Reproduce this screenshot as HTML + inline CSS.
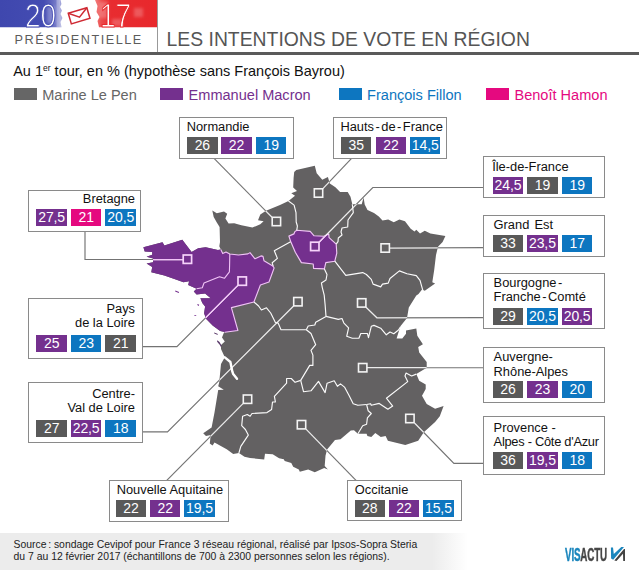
<!DOCTYPE html>
<html lang="fr"><head><meta charset="utf-8"><title>Les intentions de vote en région</title>
<style>
html,body{margin:0;padding:0;background:#fff}
body{width:639px;height:570px;position:relative;overflow:hidden;font-family:"Liberation Sans",Arial,sans-serif}
#map{position:absolute;left:0;top:0}
.hb{position:absolute;top:0;height:27.3px}
#blue{left:0;width:66px;background:linear-gradient(90deg,#3f47ae 0,#424ab0 38px,#5d63bb 46px,#9a9dd6 53px,#dcdcf0 59px,#fff 64px)}
#red{left:93px;width:64px;background:linear-gradient(90deg,#fff 0,#f08a88 3px,#e8353a 8px,#e8252b 40px,#ea3035 100%)}
.yr{position:absolute;top:-1.8px;color:#fff;font-size:32.6px;line-height:36px;transform-origin:0 0;transform:scaleX(.86);letter-spacing:0}
#pres{position:absolute;left:14.6px;top:32.1px;font-size:12.7px;line-height:16px;letter-spacing:1.5px;color:#5c5c5c}
#vsep{position:absolute;left:156.7px;top:0;width:1.2px;height:52px;background:#999}
#rule{position:absolute;left:0;top:52px;width:639px;height:2.6px;background:#5a5a5a}
#title{position:absolute;left:166.6px;top:26.9px;font-size:19.35px;line-height:24px;color:#555;white-space:nowrap}
#sub{position:absolute;left:13.2px;top:61.5px;font-size:14.5px;line-height:18px;color:#111;white-space:nowrap}
#sub sup{font-size:8.5px;vertical-align:baseline;position:relative;top:-4.6px}
.lg{position:absolute;top:85.6px;font-size:14.55px;line-height:18px;white-space:nowrap}
.lg i{position:absolute;top:2.6px;height:12.1px;width:23.4px;display:block}
.box{position:absolute;box-sizing:border-box;border:1px solid #8a8a8a;background:#fff}
.box .t{position:absolute;font-size:12.85px;line-height:14.2px;color:#111;white-space:nowrap}
.box .t i{font-style:normal;margin:0 1.5px}
.box .t b{margin-left:1.6px}
.box .t u{text-decoration:none;letter-spacing:-0.27px}
.box .c{position:absolute;display:block;width:30.5px;height:17px;color:#fff;font-size:14px;line-height:17px;text-align:center;letter-spacing:-0.1px;white-space:nowrap}
#foot{position:absolute;left:0;top:532.5px;width:639px;height:37.5px;background:linear-gradient(90deg,#ececec 0,#ececec 432px,#fff 468px)}
#src{position:absolute;left:13.6px;top:538.5px;font-size:10.4px;line-height:12.5px;color:#222;white-space:nowrap}
#logo{position:absolute;left:564.8px;top:544.4px;font-size:18.7px;line-height:22px;font-weight:bold;color:#474747;transform-origin:0 0;transform:scaleX(.525);white-space:nowrap;letter-spacing:-0.3px;-webkit-text-stroke:0.5px currentColor}
#logo span{color:#1b86bd}
</style></head><body>
<svg style="position:absolute;left:0;top:0" width="160" height="28" viewBox="0 0 160 28">
<defs><linearGradient id="gb" x1="0" x2="1"><stop offset="0" stop-color="#3f47ae"/><stop offset=".7" stop-color="#444cb2"/><stop offset=".8" stop-color="#5a60bb"/><stop offset=".93" stop-color="#7f84cc"/><stop offset="1" stop-color="#b9bbe3"/></linearGradient>
<linearGradient id="gr" x1="0" x2="1"><stop offset="0" stop-color="#f3807f"/><stop offset=".1" stop-color="#ec4b4c"/><stop offset=".25" stop-color="#e82c30"/><stop offset="1" stop-color="#e8282c"/></linearGradient><filter id="bl" x="-20%" y="-20%" width="140%" height="140%"><feGaussianBlur stdDeviation="1.6"/></filter></defs>
<path d="M0 0H60.5L61.5 4L60 7L62 10.5L60.5 14L62.5 18L60.5 22L61.5 27.2H0Z" fill="url(#gb)"/>
<path d="M56.5 0l3.5 0l1 27.2h-4.5z" fill="#fff" opacity=".3"/>
<path d="M95 0H157V27.2H99L97.5 21L99.5 17L96.5 12L97.5 6Z" fill="url(#gr)"/>
<g filter="url(#bl)"><path d="M47 6h9v17h-9z" fill="#9a9ed8" opacity=".55"/><path d="M99 2h9v16h-9z M134 8h9v9h-9z M112 19h10v7h-10z" fill="#fff" opacity=".22"/></g>
</svg>
<div class="yr" style="left:25.4px;-webkit-text-stroke:1px #444cb2">20</div><div class="yr" style="left:99.6px;-webkit-text-stroke:1px #e8292d">17</div>
<svg style="position:absolute;left:62px;top:2px" width="34" height="26" viewBox="0 0 34 26"><g transform="rotate(-16.5 17.1 13.8)" fill="#fff" stroke="#cf2a33" stroke-width="1.5" stroke-linejoin="miter"><rect x="7.4" y="8.3" width="19.4" height="11"/><path d="M7.4 8.3 L17.1 15.2 L26.8 8.3" fill="none"/></g></svg>
<div id="pres">PRÉSIDENTIELLE</div>
<div id="vsep"></div><div id="rule"></div>
<div id="title">LES INTENTIONS DE VOTE EN RÉGION</div>
<div id="sub">Au 1<sup>er</sup> tour, en % (hypothèse sans François Bayrou)</div>
<div class="lg" style="left:14px;color:#666"><i style="left:0;background:#666"></i><span style="margin-left:28.2px">Marine Le Pen</span></div>
<div class="lg" style="left:160px;color:#74308e"><i style="left:0;background:#74308e"></i><span style="margin-left:28.6px">Emmanuel Macron</span></div>
<div class="lg" style="left:338.9px;color:#0d76c0"><i style="left:0;background:#0d76c0"></i><span style="margin-left:28.2px">François Fillon</span></div>
<div class="lg" style="left:485.7px;color:#e5097f"><i style="left:0;background:#e5097f"></i><span style="margin-left:28.8px">Benoît Hamon</span></div>
<svg id="map" width="639" height="570" viewBox="0 0 639 570">
<defs><clipPath id="fr"><path d="M143.4 247.3 L162.5 242.2 L164.4 245.4 L182.3 239.8 L191.6 252.0 L198.2 248.2 L205.7 247.3 L217.9 250.1 L220.8 249.6 L219.3 246.3 L220.0 242.0 L219.6 227.0 L216.8 222.6 L213.7 217.0 L212.3 210.5 L216.8 213.3 L224.0 211.6 L227.2 213.8 L225.4 218.5 L228.6 223.5 L234.2 223.2 L241.4 225.3 L252.4 227.6 L260.3 224.2 L263.6 221.3 L258.0 220.3 L260.3 214.5 L266.0 210.8 L280.0 205.1 L288.5 201.0 L295.0 195.7 L291.3 193.2 L297.0 191.0 L293.2 187.6 L293.6 178.0 L294.2 172.0 L296.3 170.0 L314.8 165.7 L316.7 173.2 L322.3 179.8 L327.9 176.9 L329.8 183.5 L335.4 187.3 L340.1 192.0 L347.7 192.0 L350.5 196.7 L352.3 204.2 L361.7 204.2 L363.6 197.6 L364.7 204.4 L367.5 210.0 L374.0 212.9 L378.8 216.6 L382.5 220.4 L388.2 219.4 L393.8 222.3 L399.4 219.4 L405.0 221.3 L410.7 228.8 L414.5 231.6 L416.3 229.8 L420.0 233.5 L424.8 230.7 L430.4 233.5 L445.4 236.0 L442.6 242.0 L438.0 246.7 L436.0 255.0 L434.2 270.0 L432.3 282.2 L435.1 283.5 L424.8 290.7 L422.0 289.5 L418.5 294.0 L416.3 295.4 L408.8 307.6 L407.0 317.9 L400.4 326.3 L396.6 338.5 L402.3 338.5 L406.0 333.8 L406.0 330.5 L416.3 328.6 L417.3 335.7 L422.9 344.2 L418.2 347.0 L419.2 352.6 L426.7 362.0 L426.7 367.7 L416.3 374.1 L419.2 380.7 L425.7 384.4 L425.7 389.1 L422.0 395.7 L426.7 404.1 L435.1 408.8 L443.6 406.0 L439.8 416.3 L435.1 422.0 L423.8 432.3 L418.2 440.8 L405.3 445.1 L387.9 440.8 L385.6 436.1 L380.8 436.9 L375.3 432.9 L371.3 436.9 L367.4 436.1 L366.6 433.7 L357.9 433.7 L354.0 430.2 L350.8 430.6 L340.5 439.2 L335.0 440.0 L327.1 449.5 L325.5 455.8 L324.7 466.1 L327.9 469.5 L324.2 468.0 L314.8 472.3 L308.2 469.5 L299.8 471.7 L298.8 469.5 L293.2 466.7 L291.3 462.9 L284.7 461.0 L283.8 459.2 L279.1 458.2 L272.7 454.2 L265.0 453.8 L264.2 459.4 L250.0 458.0 L244.5 456.7 L238.9 453.0 L233.2 453.9 L226.7 449.2 L214.5 442.6 L212.6 445.4 L209.8 443.6 L210.7 435.1 L206.0 436.1 L203.2 433.2 L211.6 427.6 L214.5 412.6 L218.2 390.0 L223.8 389.7 L218.2 386.3 L219.2 382.5 L221.0 363.9 L224.8 357.3 L221.0 348.9 L221.0 345.1 L224.8 341.4 L222.0 337.6 L223.8 332.9 L224.8 332.0 L220.1 331.0 L212.6 325.4 L206.0 318.8 L204.1 313.2 L205.1 306.6 L202.3 302.9 L200.4 298.2 L210.7 298.2 L205.1 293.5 L196.6 294.4 L193.8 291.6 L196.6 288.8 L188.2 285.0 L189.1 281.3 L183.5 282.2 L173.0 278.4 L164.4 275.4 L151.3 272.3 L152.2 267.0 L146.6 263.6 L153.1 262.3 L153.1 258.5 L146.6 256.7 L152.2 254.8 L152.2 252.0 L144.7 251.6Z"/></clipPath><clipPath id="pu"><path d="M196.6 288.8 L188.2 285.0 L189.1 281.3 L183.5 282.2 L173.0 278.4 L164.4 275.4 L151.3 272.3 L152.2 267.0 L146.6 263.6 L153.1 262.3 L153.1 258.5 L146.6 256.7 L152.2 254.8 L152.2 252.0 L144.7 251.6 L143.4 247.3 L162.5 242.2 L164.4 245.4 L182.3 239.8 L191.6 252.0 L198.2 248.2 L205.7 247.3 L217.9 250.1 L220.8 249.6 L222.7 253.6 L226.0 252.1 L229.8 254.0 L229.6 265.1 L229.4 271.8 L224.4 278.3 L219.5 276.7 L204.0 283.0 L202.3 287.8 L196.6 288.8ZM224.8 332.0 L220.1 331.0 L212.6 325.4 L206.0 318.8 L204.1 313.2 L205.1 306.6 L202.3 302.9 L200.4 298.2 L210.7 298.2 L205.1 293.5 L196.6 294.4 L193.8 291.6 L196.6 288.8 L202.3 287.8 L204.0 283.0 L219.5 276.7 L224.4 278.3 L229.4 271.8 L229.6 265.1 L229.8 254.0 L238.5 255.0 L247.9 253.9 L250.0 252.6 L255.0 258.8 L261.0 255.9 L263.0 256.4 L264.0 260.8 L273.2 266.3 L274.1 268.0 L269.0 282.0 L260.4 285.0 L253.9 302.0 L231.4 307.6 L237.9 330.5 L224.8 332.3ZM296.8 230.2 L310.2 231.4 L314.1 235.8 L324.0 236.3 L328.7 233.9 L329.1 237.7 L336.2 244.2 L336.8 253.2 L334.8 261.2 L325.8 262.6 L324.4 268.9 L313.6 268.4 L313.2 264.0 L301.4 262.6 L295.3 252.2 L290.6 241.3 L288.9 236.1 L293.9 233.9 L294.9 231.6Z"/></clipPath></defs>
<g fill="none" stroke="#737373" stroke-width="1.15"><path d="M213.8 158.2 L272.0 217.3"/><path d="M351.8 158.2 L322.9 188.6"/><path d="M319.1 242.2 L372.8 187.5 L483.5 187.5"/><path d="M389.7 248.0 L483.5 247.6"/><path d="M366.0 307.3 L376.9 317.8 L483.5 317.6"/><path d="M367.0 367.7 L483.5 367.7"/><path d="M414.5 423.0 L453.9 463.3 L483.5 463.3"/><path d="M306.0 429.1 L356.0 480.4"/><path d="M243.0 403.6 L166.8 480.4"/><path d="M293.6 306.0 L167.5 431.9 L142.3 431.9"/><path d="M237.9 285.4 L176.9 346.6 L142.3 346.6"/><path d="M183.2 259.5 L85.0 259.5 L85.0 231.5"/></g>
<path d="M143.4 247.3 L162.5 242.2 L164.4 245.4 L182.3 239.8 L191.6 252.0 L198.2 248.2 L205.7 247.3 L217.9 250.1 L220.8 249.6 L219.3 246.3 L220.0 242.0 L219.6 227.0 L216.8 222.6 L213.7 217.0 L212.3 210.5 L216.8 213.3 L224.0 211.6 L227.2 213.8 L225.4 218.5 L228.6 223.5 L234.2 223.2 L241.4 225.3 L252.4 227.6 L260.3 224.2 L263.6 221.3 L258.0 220.3 L260.3 214.5 L266.0 210.8 L280.0 205.1 L288.5 201.0 L295.0 195.7 L291.3 193.2 L297.0 191.0 L293.2 187.6 L293.6 178.0 L294.2 172.0 L296.3 170.0 L314.8 165.7 L316.7 173.2 L322.3 179.8 L327.9 176.9 L329.8 183.5 L335.4 187.3 L340.1 192.0 L347.7 192.0 L350.5 196.7 L352.3 204.2 L361.7 204.2 L363.6 197.6 L364.7 204.4 L367.5 210.0 L374.0 212.9 L378.8 216.6 L382.5 220.4 L388.2 219.4 L393.8 222.3 L399.4 219.4 L405.0 221.3 L410.7 228.8 L414.5 231.6 L416.3 229.8 L420.0 233.5 L424.8 230.7 L430.4 233.5 L445.4 236.0 L442.6 242.0 L438.0 246.7 L436.0 255.0 L434.2 270.0 L432.3 282.2 L435.1 283.5 L424.8 290.7 L422.0 289.5 L418.5 294.0 L416.3 295.4 L408.8 307.6 L407.0 317.9 L400.4 326.3 L396.6 338.5 L402.3 338.5 L406.0 333.8 L406.0 330.5 L416.3 328.6 L417.3 335.7 L422.9 344.2 L418.2 347.0 L419.2 352.6 L426.7 362.0 L426.7 367.7 L416.3 374.1 L419.2 380.7 L425.7 384.4 L425.7 389.1 L422.0 395.7 L426.7 404.1 L435.1 408.8 L443.6 406.0 L439.8 416.3 L435.1 422.0 L423.8 432.3 L418.2 440.8 L405.3 445.1 L387.9 440.8 L385.6 436.1 L380.8 436.9 L375.3 432.9 L371.3 436.9 L367.4 436.1 L366.6 433.7 L357.9 433.7 L354.0 430.2 L350.8 430.6 L340.5 439.2 L335.0 440.0 L327.1 449.5 L325.5 455.8 L324.7 466.1 L327.9 469.5 L324.2 468.0 L314.8 472.3 L308.2 469.5 L299.8 471.7 L298.8 469.5 L293.2 466.7 L291.3 462.9 L284.7 461.0 L283.8 459.2 L279.1 458.2 L272.7 454.2 L265.0 453.8 L264.2 459.4 L250.0 458.0 L244.5 456.7 L238.9 453.0 L233.2 453.9 L226.7 449.2 L214.5 442.6 L212.6 445.4 L209.8 443.6 L210.7 435.1 L206.0 436.1 L203.2 433.2 L211.6 427.6 L214.5 412.6 L218.2 390.0 L223.8 389.7 L218.2 386.3 L219.2 382.5 L221.0 363.9 L224.8 357.3 L221.0 348.9 L221.0 345.1 L224.8 341.4 L222.0 337.6 L223.8 332.9 L224.8 332.0 L220.1 331.0 L212.6 325.4 L206.0 318.8 L204.1 313.2 L205.1 306.6 L202.3 302.9 L200.4 298.2 L210.7 298.2 L205.1 293.5 L196.6 294.4 L193.8 291.6 L196.6 288.8 L188.2 285.0 L189.1 281.3 L183.5 282.2 L173.0 278.4 L164.4 275.4 L151.3 272.3 L152.2 267.0 L146.6 263.6 L153.1 262.3 L153.1 258.5 L146.6 256.7 L152.2 254.8 L152.2 252.0 L144.7 251.6Z" fill="#636162"/>
<path d="M196.6 288.8 L188.2 285.0 L189.1 281.3 L183.5 282.2 L173.0 278.4 L164.4 275.4 L151.3 272.3 L152.2 267.0 L146.6 263.6 L153.1 262.3 L153.1 258.5 L146.6 256.7 L152.2 254.8 L152.2 252.0 L144.7 251.6 L143.4 247.3 L162.5 242.2 L164.4 245.4 L182.3 239.8 L191.6 252.0 L198.2 248.2 L205.7 247.3 L217.9 250.1 L220.8 249.6 L222.7 253.6 L226.0 252.1 L229.8 254.0 L229.6 265.1 L229.4 271.8 L224.4 278.3 L219.5 276.7 L204.0 283.0 L202.3 287.8 L196.6 288.8Z" fill="#74308e"/>
<path d="M224.8 332.0 L220.1 331.0 L212.6 325.4 L206.0 318.8 L204.1 313.2 L205.1 306.6 L202.3 302.9 L200.4 298.2 L210.7 298.2 L205.1 293.5 L196.6 294.4 L193.8 291.6 L196.6 288.8 L202.3 287.8 L204.0 283.0 L219.5 276.7 L224.4 278.3 L229.4 271.8 L229.6 265.1 L229.8 254.0 L238.5 255.0 L247.9 253.9 L250.0 252.6 L255.0 258.8 L261.0 255.9 L263.0 256.4 L264.0 260.8 L273.2 266.3 L274.1 268.0 L269.0 282.0 L260.4 285.0 L253.9 302.0 L231.4 307.6 L237.9 330.5 L224.8 332.3Z" fill="#74308e"/>
<path d="M296.8 230.2 L310.2 231.4 L314.1 235.8 L324.0 236.3 L328.7 233.9 L329.1 237.7 L336.2 244.2 L336.8 253.2 L334.8 261.2 L325.8 262.6 L324.4 268.9 L313.6 268.4 L313.2 264.0 L301.4 262.6 L295.3 252.2 L290.6 241.3 L288.9 236.1 L293.9 233.9 L294.9 231.6Z" fill="#74308e" stroke="#f1c3f7" stroke-width="1.15" stroke-linejoin="round"/>
<g><path d="M175.4 290.6l3.7 1.4-.4 1.1-3.6-1.5z M197.6 304.1l1.6.6-.5 1.2-1.4-.8z M194.4 315l1.9.3-.2.8-1.8-.4z" fill="#74308e"/><path d="M214.1 332.6l3.4 1.2.3 1.1-3.5-1.3z M217.3 340.3l2.2 1.6 2 3.6-.4 1.8-1.4-2.6-2.6-3z" fill="#5a3a6a"/></g>
<g fill="none" stroke="#fbfbfb" stroke-width="1.15" stroke-linejoin="round"><path d="M273.2 266.3 L272.2 262.8 L277.4 258.4 L274.3 250.8 L290.6 241.8"/><path d="M288.5 201.0 L294.1 205.1 L296.0 212.6 L296.2 222.0 L297.4 226.0 L296.8 230.2"/><path d="M352.3 204.2 L353.3 212.6 L348.0 220.0 L347.7 227.0 L342.0 228.0 L341.0 232.0 L342.0 235.0 L338.3 238.0 L338.0 241.6 L336.2 244.2"/><path d="M334.8 261.2 L345.8 275.4 L362.7 272.6 L366.4 274.5 L371.3 279.4 L373.1 284.1 L380.7 286.9 L382.5 284.1 L388.2 283.1 L390.0 278.5 L399.4 270.9 L407.0 273.8 L416.3 275.6 L420.0 280.3 L422.9 290.7"/><path d="M324.4 268.9 L327.0 274.5 L326.0 280.0 L321.4 282.9 L322.3 287.6 L324.2 295.1 L325.1 304.5 L326.0 316.4"/><path d="M253.9 302.0 L258.6 306.0 L261.4 310.0 L266.5 307.8 L270.7 313.0 L275.4 322.5 L278.2 323.1 L281.0 329.7 L306.3 329.7"/><path d="M306.3 329.7 L308.2 326.0 L314.8 325.0 L315.7 322.2 L326.0 316.4"/><path d="M326.0 316.4 L338.3 319.4 L342.0 318.5 L343.9 323.1 L348.6 327.8 L346.7 336.3 L352.3 338.2 L358.9 338.2 L360.8 333.5 L367.4 333.5 L368.5 337.6 L371.3 326.3 L374.0 325.4 L380.7 328.2 L386.3 334.8 L390.0 332.0 L393.8 333.8 L398.5 330.0 L400.4 327.0"/><path d="M306.3 329.7 L311.0 333.5 L315.7 344.7 L311.0 350.4 L312.9 355.1 L312.9 365.4 L309.7 365.4 L300.7 380.4"/><path d="M300.7 380.4 L295.1 382.3 L291.3 378.5 L286.6 378.5 L286.6 383.2 L274.4 396.4 L275.4 402.0 L272.5 402.0 L271.6 409.5 L267.0 412.6 L252.0 413.5 L250.1 416.3 L247.3 414.5 L242.6 416.3 L241.7 425.7 L245.4 429.5 L248.3 435.1 L240.8 446.4 L238.9 453.0"/><path d="M300.7 380.4 L303.5 391.7 L311.0 390.8 L318.5 381.4 L325.1 392.6 L327.1 383.2 L334.2 380.8 L337.4 386.3 L340.5 383.9 L344.5 387.1 L349.2 395.8 L353.2 403.7 L357.9 405.3 L366.6 404.5"/><path d="M366.6 404.5 L370.6 403.7 L371.3 405.3 L379.2 403.4 L387.9 409.2 L392.7 406.1 L386.4 398.2 L407.7 381.6 L405.0 376.0 L406.0 373.1 L411.6 376.0 L416.3 374.1"/><path d="M366.6 404.5 L368.2 410.8 L371.3 413.5 L367.4 417.9 L366.6 424.2 L362.7 425.8 L357.9 433.7"/></g>
<g fill="none" stroke="#f1c3f7" stroke-width="1.1" stroke-linejoin="round"><path d="M220.8 249.6 L222.7 253.6 L226.0 252.1 L229.8 254.0 L238.5 255.0 L247.9 253.9 L250.0 252.6 L255.0 258.8 L261.0 255.9 L263.0 256.4 L264.0 260.8 L273.2 266.3"/><path d="M229.8 254.0 L229.6 265.1 L229.4 271.8 L224.4 278.3 L219.5 276.7 L204.0 283.0 L202.3 287.8 L196.6 288.8"/><path d="M273.2 266.3 L274.1 268.0 L269.0 282.0 L260.4 285.0 L253.9 302.0"/><path d="M253.9 302.0 L231.4 307.6 L237.9 330.5 L224.8 332.3"/></g>
<path d="M224.8 357.3 L230.4 362.0 L232.3 371.4 L233.2 374.1 L237.0 378.8" fill="none" stroke="#fff" stroke-width="2.4" stroke-linecap="round" stroke-linejoin="round"/>
<g clip-path="url(#fr)" fill="none" stroke="#fff" stroke-opacity=".88" stroke-width="1.25"><path d="M213.8 158.2 L272.0 217.3"/><path d="M351.8 158.2 L322.9 188.6"/><path d="M319.1 242.2 L372.8 187.5 L483.5 187.5"/><path d="M389.7 248.0 L483.5 247.6"/><path d="M366.0 307.3 L376.9 317.8 L483.5 317.6"/><path d="M367.0 367.7 L483.5 367.7"/><path d="M414.5 423.0 L453.9 463.3 L483.5 463.3"/><path d="M306.0 429.1 L356.0 480.4"/><path d="M243.0 403.6 L166.8 480.4"/><path d="M293.6 306.0 L167.5 431.9 L142.3 431.9"/><path d="M237.9 285.4 L176.9 346.6 L142.3 346.6"/><path d="M183.2 259.5 L85.0 259.5 L85.0 231.5"/></g>
<g clip-path="url(#pu)" fill="none" stroke="#f1c3f7" stroke-width="1.25"><path d="M213.8 158.2 L272.0 217.3"/><path d="M351.8 158.2 L322.9 188.6"/><path d="M319.1 242.2 L372.8 187.5 L483.5 187.5"/><path d="M389.7 248.0 L483.5 247.6"/><path d="M366.0 307.3 L376.9 317.8 L483.5 317.6"/><path d="M367.0 367.7 L483.5 367.7"/><path d="M414.5 423.0 L453.9 463.3 L483.5 463.3"/><path d="M306.0 429.1 L356.0 480.4"/><path d="M243.0 403.6 L166.8 480.4"/><path d="M293.6 306.0 L167.5 431.9 L142.3 431.9"/><path d="M237.9 285.4 L176.9 346.6 L142.3 346.6"/><path d="M183.2 259.5 L85.0 259.5 L85.0 231.5"/></g>
<g fill="none" stroke="#f4f4f4" stroke-width="1.6"><rect x="272.2" y="217.3" width="8.4" height="8.4"/><rect x="314.3" y="188.8" width="8.4" height="8.4"/><rect x="381.0" y="243.8" width="8.4" height="8.4"/><rect x="357.5" y="298.7" width="8.4" height="8.4"/><rect x="358.5" y="363.5" width="8.4" height="8.4"/><rect x="405.7" y="414.3" width="8.4" height="8.4"/><rect x="297.3" y="420.5" width="8.4" height="8.4"/><rect x="243.3" y="395.0" width="8.4" height="8.4"/><rect x="293.7" y="297.5" width="8.4" height="8.4"/></g>
<g fill="none" stroke="#f6d3fa" stroke-width="1.7"><rect x="310.6" y="242.2" width="8.4" height="8.4"/><rect x="238.0" y="276.9" width="8.4" height="8.4"/><rect x="183.2" y="255.0" width="8.4" height="8.4"/></g>
</svg>
<div class="box" style="left:178.9px;top:117.0px;width:115.0px;height:41.7px"><div class="t" style="left:6.8px;top:1.9px">Normandie</div><span class="c" style="left:7.2px;top:19.3px;background:#595959">26</span><span class="c" style="left:41.4px;top:19.3px;background:#74308e">22</span><span class="c" style="left:76.0px;top:19.3px;background:#0d76c0">19</span></div>
<div class="box" style="left:333.3px;top:117.0px;width:113.8px;height:41.7px"><div class="t" style="left:6.1px;top:1.9px">Hauts<i>-</i>de<i>-</i>France</div><span class="c" style="left:6.7px;top:19.3px;background:#595959">35</span><span class="c" style="left:41.4px;top:19.3px;background:#74308e">22</span><span class="c" style="left:75.7px;top:19.3px;background:#0d76c0">14,5</span></div>
<div class="box" style="left:483.0px;top:155.6px;width:122.1px;height:42.2px"><div class="t" style="left:8.2px;top:3.8px">Île-de-France</div><span class="c" style="left:8.8px;top:20.1px;background:#74308e">24,5</span><span class="c" style="left:43.2px;top:20.1px;background:#595959">19</span><span class="c" style="left:77.9px;top:20.1px;background:#0d76c0">19</span></div>
<div class="box" style="left:483.0px;top:214.5px;width:122.1px;height:42.0px"><div class="t" style="left:9.6px;top:2.9px">Grand<b></b> Est</div><span class="c" style="left:8.8px;top:19.3px;background:#595959">33</span><span class="c" style="left:43.2px;top:19.3px;background:#74308e">23,5</span><span class="c" style="left:77.9px;top:19.3px;background:#0d76c0">17</span></div>
<div class="box" style="left:483.0px;top:273.1px;width:122.1px;height:55.8px"><div class="t" style="left:9.6px;top:2.1px">Bourgogne<i>-</i><br>Franche<i>-</i>Comté</div><span class="c" style="left:8.8px;top:33.6px;background:#595959">29</span><span class="c" style="left:43.2px;top:33.6px;background:#0d76c0">20,5</span><span class="c" style="left:77.9px;top:33.6px;background:#74308e">20,5</span></div>
<div class="box" style="left:483.0px;top:346.8px;width:122.1px;height:56.7px"><div class="t" style="left:9.6px;top:2.5px">Auvergne-<br>Rhône-Alpes</div><span class="c" style="left:8.8px;top:33.6px;background:#595959">26</span><span class="c" style="left:43.2px;top:33.6px;background:#74308e">23</span><span class="c" style="left:77.9px;top:33.6px;background:#0d76c0">20</span></div>
<div class="box" style="left:483.0px;top:416.0px;width:122.1px;height:59.4px"><div class="t" style="left:9.6px;top:3.9px">Provence -<br><u>Alpes - Côte d'Azur</u></div><span class="c" style="left:8.8px;top:35.1px;background:#595959">36</span><span class="c" style="left:43.2px;top:35.1px;background:#74308e">19,5</span><span class="c" style="left:77.9px;top:35.1px;background:#0d76c0">18</span></div>
<div class="box" style="left:347.0px;top:479.9px;width:115.0px;height:41.5px"><div class="t" style="left:6.8px;top:1.7px">Occitanie</div><span class="c" style="left:6.5px;top:18.8px;background:#595959">28</span><span class="c" style="left:40.8px;top:18.8px;background:#74308e">22</span><span class="c" style="left:75.2px;top:18.8px;background:#0d76c0">15,5</span></div>
<div class="box" style="left:108.7px;top:479.9px;width:120.4px;height:41.9px"><div class="t" style="left:7.0px;top:1.7px">Nouvelle Aquitaine</div><span class="c" style="left:6.1px;top:18.8px;background:#595959">22</span><span class="c" style="left:40.3px;top:18.8px;background:#74308e">22</span><span class="c" style="left:74.6px;top:18.8px;background:#0d76c0">19,5</span></div>
<div class="box" style="left:28.3px;top:382.2px;width:114.5px;height:61.2px"><div class="t" style="right:6.8px;top:3.9px;text-align:right">Centre-<br>Val de Loire</div><span class="c" style="left:7.1px;top:36.9px;background:#595959">27</span><span class="c" style="left:41.6px;top:36.9px;background:#74308e">22,5</span><span class="c" style="left:76.2px;top:36.9px;background:#0d76c0">18</span></div>
<div class="box" style="left:28.3px;top:298.1px;width:114.5px;height:60.8px"><div class="t" style="right:6.8px;top:2.8px;text-align:right">Pays<br>de la Loire</div><span class="c" style="left:7.1px;top:36.0px;background:#74308e">25</span><span class="c" style="left:41.6px;top:36.0px;background:#0d76c0">23</span><span class="c" style="left:76.2px;top:36.0px;background:#595959">21</span></div>
<div class="box" style="left:28.3px;top:189.8px;width:112.3px;height:42.2px"><div class="t" style="right:4.6px;top:1.7px;text-align:right">Bretagne</div><span class="c" style="left:7.1px;top:18.5px;background:#74308e">27,5</span><span class="c" style="left:41.6px;top:18.5px;background:#e5097f">21</span><span class="c" style="left:76.2px;top:18.5px;background:#0d76c0">20,5</span></div>
<div id="foot"></div>
<div id="src">Source<span style="margin-left:1.6px">:</span> sondage Cevipof pour France 3 réseau régional, réalisé par Ipsos-Sopra Steria<br>du 7 au 12 février 2017 (échantillons de 700 à 2300 personnes selon les régions).</div>
<div id="logo"><span>VIS</span>ACTU</div>
<svg style="position:absolute;left:600px;top:540px" width="35" height="28" viewBox="600 540 35 28"><path d="M610.9 547.6L613 547.6L613.8 554L621.3 547.1L624 547.1L613.2 559.8L611.1 558.6Z" fill="#1b86bd"/><path d="M614.3 560.6L624 549L625 549L625 561.1L623.2 561.1L623 553.8L616.5 560.9Z" fill="#444"/></svg>
</body></html>
